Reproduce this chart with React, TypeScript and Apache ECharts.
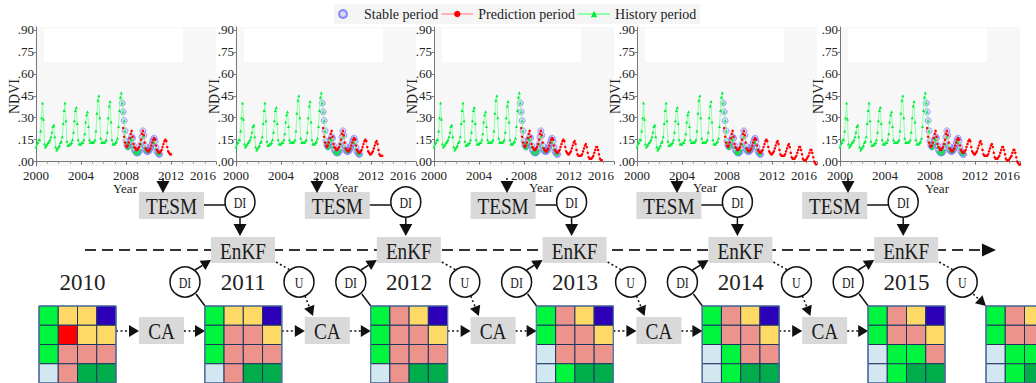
import React, { useEffect, useRef } from "react";
import * as echarts from "echarts";

// ---- chart data -------------------------------------------------------------
const X_TICK_INTERVAL = 4;
const NDVI_TICKS = [0, 0.15, 0.3, 0.45, 0.6, 0.75, 0.9];
const PANEL_LEFT = [36, 236, 434, 637, 840];
const PREDICTION_END = [2012.0, 2013.0, 2014.92, 2015.92, 2016.0];

// monthly NDVI, first value = Jan 2000
const HISTORY_START = 2000;
const historyNdvi = [
  0.10, 0.12, 0.13, 0.15, 0.15, 0.21, 0.30, 0.40, 0.29, 0.12, 0.10, 0.11,
  0.12, 0.13, 0.14, 0.15, 0.17, 0.20, 0.24, 0.25, 0.17, 0.10, 0.08, 0.09,
  0.10, 0.11, 0.13, 0.14, 0.17, 0.26, 0.35, 0.40, 0.28, 0.14, 0.11, 0.11,
  0.12, 0.12, 0.13, 0.15, 0.20, 0.28, 0.35, 0.37, 0.26, 0.15, 0.12, 0.12,
  0.12, 0.13, 0.13, 0.15, 0.19, 0.27, 0.32, 0.34, 0.24, 0.15, 0.13, 0.13,
  0.13, 0.13, 0.14, 0.15, 0.21, 0.33, 0.42, 0.45, 0.30, 0.16, 0.13, 0.13,
  0.13, 0.13, 0.14, 0.15, 0.20, 0.30, 0.38, 0.41, 0.27, 0.15, 0.12, 0.12,
  0.12, 0.13, 0.14, 0.16, 0.24, 0.35, 0.44, 0.47, 0.40, 0.34, 0.28, 0.21,
  0.13, 0.10, 0.09, 0.10, 0.12, 0.15, 0.16, 0.15, 0.10, 0.07, 0.06, 0.06,
  0.05, 0.06, 0.07, 0.08, 0.12, 0.17, 0.20, 0.17, 0.10, 0.08, 0.07, 0.07,
  0.07, 0.08, 0.09, 0.11, 0.13, 0.14, 0.15, 0.13, 0.09, 0.07, 0.06, 0.05,
  0.05,
];

// monthly NDVI, first value = Sep 2007
const STABLE_START = 2007 + 8 / 12;
const stableNdvi = [
  0.40, 0.34, 0.28, 0.21,
  0.14, 0.11, 0.10, 0.11, 0.13, 0.15, 0.17, 0.16, 0.11, 0.08, 0.07, 0.06,
  0.06, 0.06, 0.07, 0.09, 0.12, 0.17, 0.21, 0.18, 0.11, 0.08, 0.07, 0.07,
  0.07, 0.08, 0.09, 0.11, 0.13, 0.15, 0.16, 0.14, 0.10, 0.07, 0.06, 0.05,
  0.05,
];

// monthly NDVI, first value = Oct 2007
const PREDICTION_START = 2007 + 9 / 12;
const predictionNdvi = [
  0.23, 0.17, 0.13,
  0.11, 0.10, 0.11, 0.13, 0.16, 0.19, 0.21, 0.17, 0.12, 0.10, 0.09, 0.08,
  0.08, 0.09, 0.10, 0.12, 0.15, 0.19, 0.21, 0.18, 0.13, 0.09, 0.08, 0.07,
  0.07, 0.08, 0.09, 0.11, 0.13, 0.15, 0.16, 0.15, 0.11, 0.08, 0.07, 0.06,
  0.06, 0.07, 0.08, 0.10, 0.12, 0.14, 0.15, 0.14, 0.10, 0.07, 0.06, 0.05,
  0.05, 0.06, 0.07, 0.09, 0.11, 0.13, 0.14, 0.12, 0.08, 0.05, 0.04, 0.04,
  0.04, 0.04, 0.05, 0.07, 0.09, 0.11, 0.12, 0.10, 0.06, 0.03, 0.02, 0.02,
  0.02, 0.03, 0.04, 0.06, 0.08, 0.10, 0.10, 0.08, 0.05, 0.02, 0.01, 0.01,
  0.01, 0.02, 0.03, 0.04, 0.06, 0.08, 0.08, 0.06, 0.03, 0.00, -0.01, -0.02,
  -0.02,
];

// ---- land-use maps (G green, Y yellow, B blue, R red, S salmon, L light blue, D dark green)
const MAP_YEARS = ["2010", "2011", "2012", "2013", "2014", "2015"];
const landMaps = [
  ["GYYB", "GRYY", "GSSS", "LSDD"],
  ["GYYB", "GSSY", "GSSS", "LSDD"],
  ["GSYB", "GSSY", "GSSS", "LSDD"],
  ["GSYB", "GSSY", "LSSS", "LGDD"],
  ["GSYB", "GSSY", "LGSS", "LGDD"],
  ["GSYB", "GSSY", "LGGS", "LGDD"],
  ["GSYB", "GSSY", "LGGG", "LGDD"],
];
const CELL_COLORS: Record<string, string> = {
  G: "#00f53e",
  Y: "#ffd966",
  B: "#2c00b8",
  R: "#ff0000",
  S: "#ec938c",
  L: "#d2e7ef",
  D: "#00ad4a",
};

// ---- layout of the flow diagram ----------------------------------------
const STEP = 165.8;
const PANEL_ARROW_X = [163, 317, 507, 677, 848];
const YEAR_LABEL_POS = [
  [125, 188],
  [346, 187],
  [541, 187],
  [705, 187],
  [937, 188],
];
const SERIF = "Liberation Serif";

const monthly = (start: number, values: number[]) =>
  values.map((v, i) => [+(start + i / 12).toFixed(4), v]);

const fmtNdvi = (v: number) => v.toFixed(2).replace(/^0/, "");

function seg(x1: number, y1: number, x2: number, y2: number, dash?: number[], w = 1.5) {
  return {
    type: "line",
    z: 5,
    shape: { x1, y1, x2, y2 },
    style: { stroke: "#111", lineWidth: w, lineDash: dash },
  };
}

function arrow(x1: number, y1: number, x2: number, y2: number, dash?: number[], len = 11, half = 5.5) {
  const dx = x2 - x1;
  const dy = y2 - y1;
  const d = Math.hypot(dx, dy);
  const ux = dx / d;
  const uy = dy / d;
  const bx = x2 - ux * len;
  const by = y2 - uy * len;
  return [
    seg(x1, y1, bx, by, dash),
    {
      type: "polygon",
      z: 5,
      shape: {
        points: [
          [x2, y2],
          [bx - uy * half, by + ux * half],
          [bx + uy * half, by - ux * half],
        ],
      },
      style: { fill: "#111" },
    },
  ];
}

function box(x: number, y: number, w: number, h: number, text: string) {
  return [
    { type: "rect", z: 4, shape: { x, y, width: w, height: h }, style: { fill: "#d9d9d9" } },
    {
      type: "text",
      z: 6,
      x: x + w / 2,
      y: y + h / 2 + 1,
      scaleX: 0.8,
      style: {
        text,
        fill: "#1a1a1a",
        fontFamily: SERIF,
        fontSize: 24,
        align: "center",
        verticalAlign: "middle",
      },
    },
  ];
}

function node(cx: number, cy: number, text: string) {
  return [
    { type: "circle", z: 5, shape: { cx, cy, r: 15 }, style: { fill: "#fff", stroke: "#111", lineWidth: 1.5 } },
    {
      type: "text",
      z: 6,
      x: cx,
      y: cy + 1,
      scaleX: 0.85,
      style: { text, fill: "#1a1a1a", fontFamily: SERIF, fontSize: 14, align: "center", verticalAlign: "middle" },
    },
  ];
}

function landMap(x: number, y: number, rows: string[]) {
  const c = 19.25;
  const els: any[] = [];
  rows.forEach((row, r) =>
    row.split("").forEach((k, col) => {
      els.push({
        type: "rect",
        z: 4,
        shape: { x: x + col * c, y: y + r * c, width: c, height: c },
        style: { fill: CELL_COLORS[k], stroke: "#1f3560", lineWidth: 1 },
      });
    })
  );
  els.push({
    type: "rect",
    z: 5,
    shape: { x, y, width: c * 4, height: c * 4 },
    style: { fill: "none", stroke: "#5577aa", lineWidth: 1.2 },
  });
  return els;
}

function buildGraphic() {
  const g: any[] = [];
  const dot = [2, 2.5];

  // white boxes inside each plot, axis titles and arrows down to TESM
  PANEL_LEFT.forEach((left, p) => {
    g.push({ type: "rect", z: 1, shape: { x: left + 8, y: 28, width: 139, height: 34 }, style: { fill: "#fff" } });
    g.push({
      type: "text",
      z: 6,
      x: YEAR_LABEL_POS[p][0],
      y: YEAR_LABEL_POS[p][1],
      style: {
        text: "Year",
        fill: "#222",
        fontFamily: SERIF,
        fontSize: 13,
        lineHeight: 12,
        align: "center",
        verticalAlign: "middle",
      },
    });
    g.push(...arrow(PANEL_ARROW_X[p], 178, PANEL_ARROW_X[p], 193, p === 2 ? dot : undefined, 12, 6.5));
  });

  // time line
  g.push({
    type: "line",
    z: 3,
    shape: { x1: 85, y1: 250, x2: 984, y2: 250 },
    style: { stroke: "#333", lineWidth: 2, lineDash: [11, 6] },
  });
  g.push({ type: "polygon", z: 3, shape: { points: [[996, 250], [982, 243.5], [982, 256.5]] }, style: { fill: "#111" } });

  for (let k = 0; k < 5; k++) {
    const o = STEP * k;
    // TESM -> DI -> EnKF
    g.push(...box(139 + o, 192, 65, 27, "TESM"));
    g.push(seg(204 + o, 205, 225 + o, 205));
    g.push(...node(240 + o, 202, "DI"));
    g.push(...arrow(240 + o, 217, 240 + o, 236, undefined, 12, 6.5));
    g.push(...box(211 + o, 237, 64, 26, "EnKF"));

    // map -> DI -> EnKF
    g.push(...node(185 + o, 282, "DI"));
    g.push(...arrow(195 + o, 270, 211 + o, 260, undefined, 10, 5.5));
    g.push(seg(196 + o, 294, 205 + o, 306));

    // EnKF -> U -> CA / next map
    g.push(seg(276 + o, 262, 290 + o, 270, dot));
    g.push(...node(299 + o, 282, "U"));
    if (k < 4) g.push(...arrow(305 + o, 296, 313 + o, 316, dot, 10, 5.5));
    else g.push(...arrow(310 + o, 294, 986, 306, dot, 10, 5.5));

    // map -> CA -> map
    g.push(...box(139 + o, 317, 45, 27, "CA"));
    g.push(...arrow(116 + o, 331, 139 + o, 331, dot, 10, 6));
    g.push(...arrow(184 + o, 331, 205 + o, 331, dot, 10, 6));
  }

  // yearly land-use maps
  landMaps.forEach((rows, k) => {
    const x = k < 6 ? 39 + STEP * k : 986;
    g.push(...landMap(x, 306, rows));
    if (k < 6) {
      g.push({
        type: "text",
        z: 6,
        x: x + 38.5 + (k === 0 ? 5 : 0),
        y: 282,
        style: {
          text: MAP_YEARS[k],
          fill: "#222",
          fontFamily: SERIF,
          fontSize: 23,
          align: "center",
          verticalAlign: "middle",
        },
      });
    }
  });
  return g;
}

function buildOption() {
  const history = monthly(HISTORY_START, historyNdvi);
  const stable = monthly(STABLE_START, stableNdvi);
  const prediction = monthly(PREDICTION_START, predictionNdvi);

  const grid = PANEL_LEFT.map((left) => ({
    left,
    top: 27,
    width: 180,
    height: 139,
    show: true,
    backgroundColor: "#f7f7f7",
    borderWidth: 0,
  }));

  const axisText = { fontFamily: SERIF, fontSize: 13, lineHeight: 10, color: "#222" };
  const xAxis = PANEL_LEFT.map((_, p) => ({
    type: "value",
    gridIndex: p,
    min: 2000,
    max: 2016,
    interval: X_TICK_INTERVAL,
    axisLine: { lineStyle: { color: "#777", width: 1 } },
    axisTick: { length: 3, lineStyle: { color: "#777" } },
    minorTick: { show: true, splitNumber: 4, length: 2, lineStyle: { color: "#999" } },
    splitLine: { show: false },
    axisLabel: { ...axisText, margin: 4, alignMaxLabel: "right", formatter: (v: number) => String(v) },
  }));
  const yAxis = PANEL_LEFT.map((_, p) => ({
    type: "value",
    gridIndex: p,
    min: -0.03,
    max: 0.92,
    name: "NDVI",
    nameLocation: "middle",
    nameGap: 15,
    nameMoveOverlap: false,
    nameTextStyle: { fontFamily: SERIF, fontSize: 14, color: "#222" },
    axisLine: { show: true, lineStyle: { color: "#777", width: 1 } },
    axisTick: { show: true, length: 2, customValues: NDVI_TICKS, lineStyle: { color: "#777" } },
    splitLine: { show: false },
    axisLabel: { ...axisText, margin: 2, customValues: NDVI_TICKS, formatter: fmtNdvi },
  }));

  const series: any[] = [];
  PANEL_LEFT.forEach((_, p) => {
    series.push({
      name: "Stable period",
      type: "scatter",
      xAxisIndex: p,
      yAxisIndex: p,
      z: 2,
      symbol: "circle",
      symbolSize: 6,
      itemStyle: { color: "rgba(125,125,255,0.3)", borderColor: "#6f6fff", borderWidth: 0.8 },
      data: stable,
    });
    series.push({
      name: "History period",
      type: "line",
      xAxisIndex: p,
      yAxisIndex: p,
      z: 3,
      symbol: "triangle",
      symbolSize: 3,
      showAllSymbol: true,
      itemStyle: { color: "#00ee3a" },
      lineStyle: { color: "#8fffaa", width: 1 },
      data: history,
    });
    series.push({
      name: "Prediction period",
      type: "line",
      xAxisIndex: p,
      yAxisIndex: p,
      z: 4,
      symbol: "circle",
      symbolSize: 2.5,
      showAllSymbol: true,
      itemStyle: { color: "#ff0000" },
      lineStyle: { color: "#ffb4b4", width: 1 },
      data: prediction.filter((d) => d[0] <= PREDICTION_END[p] + 1e-6),
    });
  });

  return {
    animation: false,
    backgroundColor: "#fff",
    legend: {
      left: 334,
      top: 4,
      itemWidth: 32,
      itemHeight: 8,
      itemGap: 2,
      padding: [3, 4],
      backgroundColor: "#f5f5f5",
      textStyle: { fontFamily: SERIF, fontSize: 14, color: "#222" },
      data: ["Stable period", "Prediction period", "History period"],
    },
    grid,
    xAxis,
    yAxis,
    series,
    graphic: { elements: buildGraphic() },
  };
}

export default function App() {
  const ref = useRef<HTMLDivElement>(null);
  useEffect(() => {
    if (!ref.current) return;
    const chart = echarts.init(ref.current, null, { renderer: "svg" });
    chart.setOption(buildOption() as any);
    return () => chart.dispose();
  }, []);
  return (
    <div
      ref={ref}
      style={{ position: "fixed", left: 0, top: 0, width: 1036, height: 383, background: "#fff" }}
    />
  );
}
